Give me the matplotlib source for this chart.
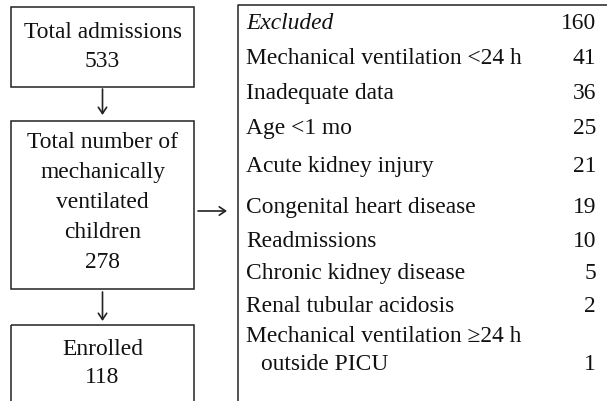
import matplotlib
matplotlib.use("Agg")
import matplotlib.pyplot as plt
from matplotlib.patches import Rectangle

# ---- data ----
stage_labels = ["Total admissions", "Total number of\nmechanically\nventilated\nchildren", "Enrolled"]
stage_counts = [533, 278, 118]
excluded_label = "Excluded"
excluded_total = 160
reasons = ["Mechanical ventilation <24 h", "Inadequate data", "Age <1 mo",
           "Acute kidney injury", "Congenital heart disease", "Readmissions",
           "Chronic kidney disease", "Renal tubular acidosis",
           "Mechanical ventilation \u226524 h\noutside PICU"]
reason_counts = [41, 36, 25, 21, 19, 10, 5, 2, 1]

# ---- layout (pixels) ----
W, H = 607, 402
row_baselines = [64, 99, 134, 172, 213, 247, 279, 312, 342]
wrap_step = 28

fig = plt.figure(figsize=(W / 100, H / 100), dpi=100)
ax = fig.add_axes([0, 0, 1, 1])
ax.set_xlim(0, W)
ax.set_ylim(H, 0)
ax.axis("off")

FONT = "Liberation Serif"
FS = 16.9
EC = "#222222"
TC = "#111111"
LW = 1.1

# left boxes (top, bottom); last one runs off the bottom
boxes = [(8, 88), (122, 290), (326, H + 5)]
bx0, bx1 = 11, 194
cx = (bx0 + bx1) / 2
text_tops = [38, 148, 355]
line_hs = [29, 30, 28]
for (t, b), lab, n, y0, lh in zip(boxes, stage_labels, stage_counts, text_tops, line_hs):
    ax.add_patch(Rectangle((bx0, t), bx1 - bx0, b - t, fill=False, ec=EC, lw=LW))
    lines = lab.split("\n") + [str(n)]
    for i, s in enumerate(lines):
        ax.text(cx, y0 + i * lh, s, ha="center", va="baseline",
                fontsize=FS, family=FONT, color=TC)

# down arrows
astyle = "->,head_length=0.45,head_width=0.3"
for (y_a, y_b) in [(90, 116), (293, 322)]:
    ax.annotate("", xy=(cx, y_b), xytext=(cx, y_a),
                arrowprops=dict(arrowstyle=astyle, lw=1.2, color=EC,
                                shrinkA=0, shrinkB=0))
# right arrow
ax.annotate("", xy=(227, 212), xytext=(198, 212),
            arrowprops=dict(arrowstyle=astyle, lw=1.2, color=EC,
                            shrinkA=0, shrinkB=0))

# right table box (open right and bottom)
rx = 238
ax.plot([rx, rx, W + 2], [H + 2, 6, 6], color=EC, lw=LW, solid_capstyle="butt")

tx_l, tx_r, tx_ind = 246, 596, 261
ax.text(tx_l, 29, excluded_label, ha="left", va="baseline", fontsize=FS,
        family=FONT, style="italic", color=TC)
ax.text(tx_r, 29, str(excluded_total), ha="right", va="baseline", fontsize=FS,
        family=FONT, color=TC)
for lab, n, y in zip(reasons, reason_counts, row_baselines):
    parts = lab.split("\n")
    for j, p in enumerate(parts):
        ax.text(tx_l if j == 0 else tx_ind, y + j * wrap_step, p, ha="left",
                va="baseline", fontsize=FS, family=FONT, color=TC)
    ax.text(tx_r, y + (len(parts) - 1) * wrap_step, str(n), ha="right",
            va="baseline", fontsize=FS, family=FONT, color=TC)

fig.savefig("out.png", dpi=100)
